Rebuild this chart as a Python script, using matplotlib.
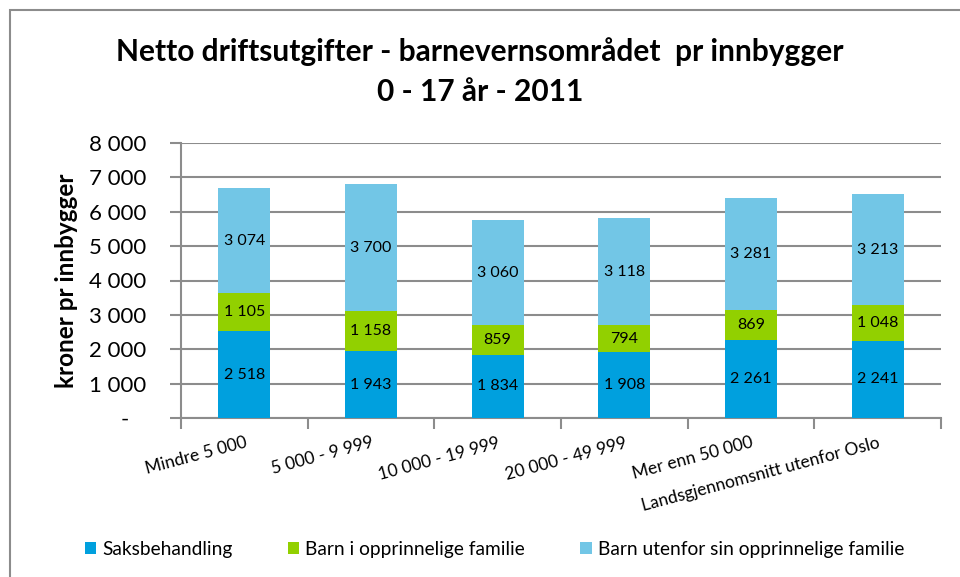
import matplotlib.pyplot as plt
import numpy as np
from matplotlib.patches import Rectangle

# data
categories = ['Mindre 5 000', '5 000 - 9 999', '10 000 - 19 999', '20 000 - 49 999',
              'Mer enn 50 000', 'Landsgjennomsnitt utenfor Oslo']
saksbehandling = [2518, 1943, 1834, 1908, 2261, 2241]
barn_i_familie = [1105, 1158, 859, 794, 869, 1048]
barn_utenfor = [3074, 3700, 3060, 3118, 3281, 3213]
series_names = ['Saksbehandling', 'Barn i opprinnelige familie',
                'Barn utenfor sin opprinnelige familie']
yticks = [0, 1000, 2000, 3000, 4000, 5000, 6000, 7000, 8000]
ytick_labels = ['-   ', '1 000', '2 000', '3 000', '4 000', '5 000', '6 000', '7 000', '8 000']

colors = ['#00A0DE', '#92D000', '#72C6E6']

plt.rcParams['font.family'] = ['Lato', 'DejaVu Sans']

fig = plt.figure(figsize=(9.6, 5.77), dpi=100)
ax = fig.add_axes([181 / 960, 1 - 418 / 577, (941 - 181) / 960, (418 - 143) / 577])

x = np.arange(len(categories))
width = 0.41
bottom = np.zeros(len(categories))
bars = []
for vals, col, name in zip([saksbehandling, barn_i_familie, barn_utenfor], colors, series_names):
    b = ax.bar(x, vals, width, bottom=bottom, color=col, label=name, zorder=3)
    bars.append(b)
    for xi, v, bt in zip(x, vals, bottom):
        ax.text(xi, bt + v / 2, f'{v:,}'.replace(',', ' '), ha='center', va='center',
                fontsize=11.5, color='black', zorder=4)
    bottom = bottom + np.array(vals)

ax.set_xlim(-0.5, len(categories) - 0.5)
ax.set_ylim(0, 8000)
ax.set_yticks(yticks)
ax.set_yticklabels(ytick_labels, fontsize=16)
ax.yaxis.grid(True, color='#8C8C8C', linewidth=1.5, zorder=0)
ax.tick_params(axis='y', length=8, width=1.5, color='#8C8C8C', pad=17)

ax.set_xticks(x)
ax.set_xticklabels(categories, rotation=15, ha='right', rotation_mode='anchor', fontsize=12.5)
ax.set_xticks(np.arange(len(categories) + 1) - 0.5, minor=True)
ax.tick_params(axis='x', which='major', length=0, pad=12)
ax.tick_params(axis='x', which='minor', length=8, width=1.5, color='#8C8C8C')

for s in ['top', 'right']:
    ax.spines[s].set_visible(False)
for s in ['left', 'bottom']:
    ax.spines[s].set_color('#8C8C8C')
    ax.spines[s].set_linewidth(1.5)

ax.set_ylabel('kroner pr innbygger', fontsize=17.5, fontweight='bold', labelpad=8)

fig.text(0.5, 1 - 52 / 577, 'Netto driftsutgifter - barnevernsområdet  pr innbygger',
         ha='center', va='center', fontsize=21.5, fontweight='bold')
fig.text(0.5, 1 - 92 / 577, '0 - 17 år - 2011',
         ha='center', va='center', fontsize=21.5, fontweight='bold')

fig.legend(handles=bars, labels=series_names, loc='center', ncol=3,
           bbox_to_anchor=(0.515, 1 - 549 / 577), frameon=False, fontsize=13.8,
           handlelength=0.6, handleheight=0.6, handletextpad=0.3, columnspacing=2.9)

# chart frame
fig.patches.append(Rectangle((10 / 960, -0.1), 1.2, 1 - 10 / 577 + 0.1,
                             transform=fig.transFigure, fill=False,
                             edgecolor='#8C8C8C', linewidth=1.5))

fig.savefig('out.png', dpi=100)
